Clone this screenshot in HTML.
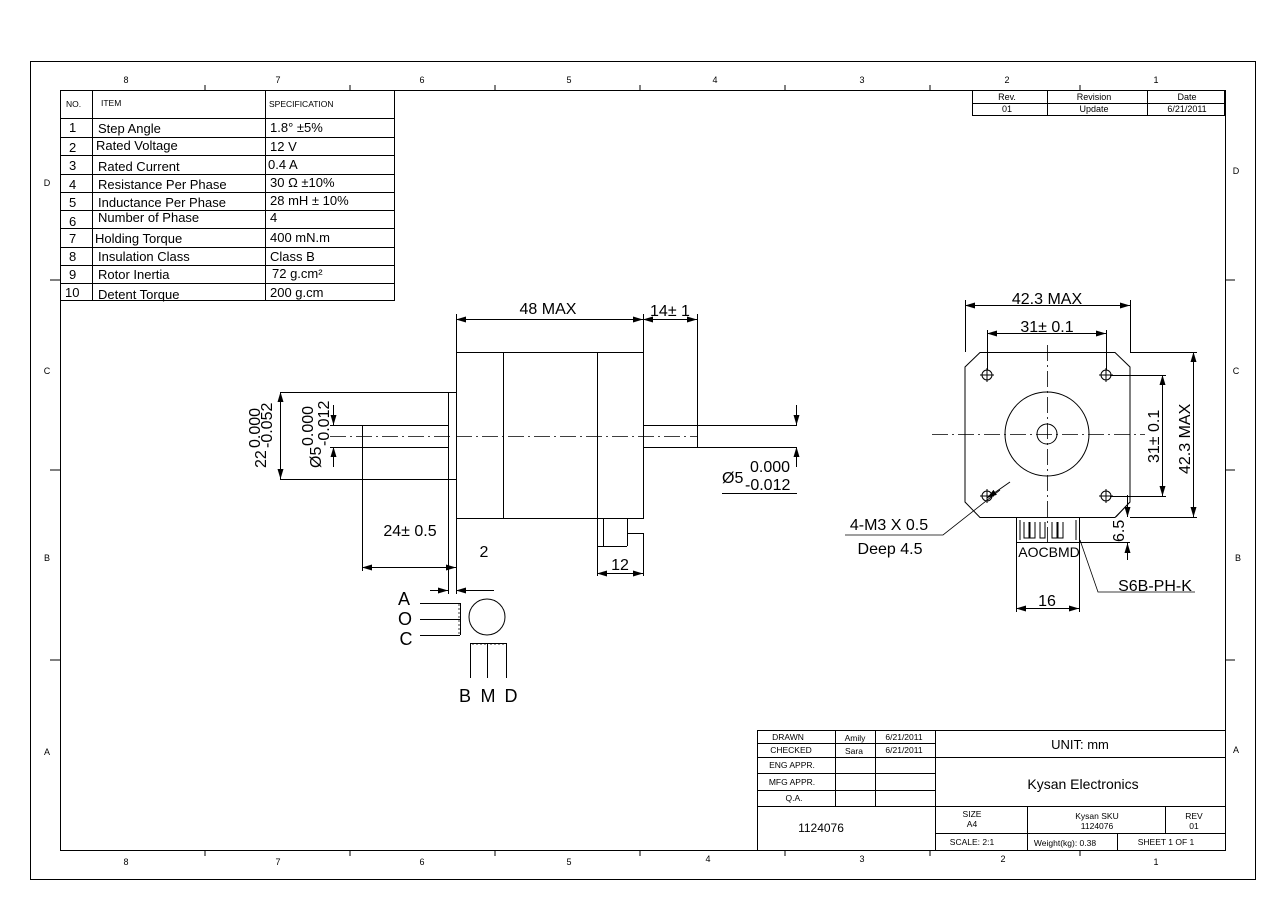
<!DOCTYPE html>
<html><head><meta charset="utf-8"><style>
body{margin:0;background:#fff}
svg{display:block;font-family:"Liberation Sans",Arial,sans-serif}
</style></head><body>
<svg width="1286" height="909" viewBox="0 0 1286 909" xmlns="http://www.w3.org/2000/svg">
<defs>
<marker id="a" viewBox="0 0 10 6" refX="10" refY="3" markerWidth="10" markerHeight="6" orient="auto-start-reverse" markerUnits="userSpaceOnUse"><path d="M0,0 L10,3 L0,6 z" fill="#000"/></marker>
</defs>
<g fill="none" stroke="#000" stroke-width="1">
<rect x="30.5" y="61.5" width="1225" height="818"/>
<rect x="60.5" y="90.5" width="1165" height="760"/>
<path d="M205,85V90M350,85V90M495,85V90M640,85V90M785,85V90M930,85V90M1080,85V90
M205,850V856M350,850V856M495,850V856M640,850V856M785,850V856M930,850V856M1080,850V856
M50,280H60M50,470H60M50,660H60M1225,280H1235M1225,470H1235M1225,660H1235"/>
</g>
<g font-size="9" text-anchor="middle" fill="#000">
<text x="126" y="83">8</text><text x="278" y="83">7</text><text x="422" y="83">6</text><text x="569" y="83">5</text><text x="715" y="83">4</text><text x="862" y="83">3</text><text x="1007" y="83">2</text><text x="1156" y="83">1</text>
<text x="126" y="865">8</text><text x="278" y="865">7</text><text x="422" y="865">6</text><text x="569" y="865">5</text><text x="708" y="862">4</text><text x="862" y="862">3</text><text x="1003" y="862">2</text><text x="1156" y="865">1</text>
<text x="47" y="186">D</text><text x="47" y="374">C</text><text x="47" y="561">B</text><text x="47" y="755">A</text>
<text x="1236" y="174">D</text><text x="1236" y="374">C</text><text x="1238" y="561">B</text><text x="1236" y="753">A</text>
</g>
<!-- spec table -->
<g fill="none" stroke="#000">
<rect x="60.5" y="90.5" width="334" height="210"/>
<path d="M92.5,90V301M265.5,90V301M60,118.5H395M60,137.5H395M60,155.5H395M60,174.5H395M60,192.5H395M60,210.5H395M60,228.5H395M60,247.5H395M60,265.5H395M60,283.5H395"/>
</g>
<g font-size="13" fill="#000">
<text x="66" y="107" font-size="8.5">NO.</text><text x="101" y="106" font-size="8.5">ITEM</text><text x="269" y="107" font-size="8.5">SPECIFICATION</text>
<text x="69" y="132">1</text><text x="98" y="133">Step Angle</text><text x="270" y="132">1.8° ±5%</text>
<text x="69" y="152">2</text><text x="96" y="150">Rated Voltage</text><text x="270" y="151">12 V</text>
<text x="69" y="170">3</text><text x="98" y="171">Rated Current</text><text x="268" y="169">0.4 A</text>
<text x="69" y="189">4</text><text x="98" y="189">Resistance Per Phase</text><text x="270" y="187">30 Ω ±10%</text>
<text x="69" y="207">5</text><text x="98" y="207">Inductance Per Phase</text><text x="270" y="205">28 mH ± 10%</text>
<text x="69" y="226">6</text><text x="98" y="222">Number of Phase</text><text x="270" y="222">4</text>
<text x="69" y="243">7</text><text x="95" y="243">Holding Torque</text><text x="270" y="242">400 mN.m</text>
<text x="69" y="261">8</text><text x="98" y="261">Insulation Class</text><text x="270" y="261">Class B</text>
<text x="69" y="279">9</text><text x="98" y="279">Rotor Inertia</text><text x="272" y="278">72 g.cm²</text>
<text x="65" y="297">10</text><text x="98" y="299">Detent Torque</text><text x="270" y="297">200 g.cm</text>
</g>
<!-- revision table -->
<g fill="none" stroke="#000"><rect x="972.5" y="90.5" width="252" height="25"/><path d="M972,103.5H1225M1047.5,90V116M1147.5,90V116"/></g>
<g font-size="9" text-anchor="middle"><text x="1007" y="100">Rev.</text><text x="1094" y="100">Revision</text><text x="1187" y="100">Date</text><text x="1007" y="112">01</text><text x="1094" y="112">Update</text><text x="1187" y="112">6/21/2011</text></g>
<!-- side view -->
<g fill="none" stroke="#000">
<rect x="456.5" y="352.5" width="187" height="166"/>
<path d="M503.5,352V518M597.5,352V518"/>
<path d="M448.5,392V479M280,392.5H456M280,479.5H456"/>
<path d="M362,425.5H448M362,447.5H448M362.5,425V447M643,425.5H797M643,447.5H797M697.5,425V447"/>
<path d="M597.5,518V546M603.5,518V546M597,546.5H627M627.5,518V546M627,533.5H643"/>
<path d="M330,436.5H450M456,436.5H697" stroke-dasharray="16,4,2,4" stroke-width="0.8"/>
<!-- dims -->
<path d="M456.5,352V314M643.5,352V314M697.5,425V314"/>
<path d="M456,319.5H643" marker-start="url(#a)" marker-end="url(#a)"/>
<path d="M643,319.5H697" marker-start="url(#a)" marker-end="url(#a)"/>
<path d="M280.5,392V479" marker-start="url(#a)" marker-end="url(#a)"/>
<path d="M333.5,405V425" marker-end="url(#a)"/><path d="M333.5,467V447" marker-end="url(#a)"/><path d="M330,425.5H362M330,447.5H362"/>
<path d="M362.5,447V571M456.5,518V571"/>
<path d="M362,567.5H456" marker-start="url(#a)" marker-end="url(#a)"/>
<path d="M448.5,480V594M456.5,571V594"/>
<path d="M430,590.5H448" marker-end="url(#a)"/><path d="M494,590.5H456" marker-end="url(#a)"/>
<path d="M597.5,546V576M643.5,533V576"/>
<path d="M597,573.5H643" marker-start="url(#a)" marker-end="url(#a)"/>
<path d="M796.5,405V425" marker-end="url(#a)"/><path d="M796.5,467V447" marker-end="url(#a)"/>
<path d="M722,493.5H797"/>
</g>
<g font-size="16" fill="#000">
<text x="548" y="314" text-anchor="middle">48 MAX</text>
<text x="670" y="316" text-anchor="middle">14± 1</text>
<text x="410" y="536" text-anchor="middle">24± 0.5</text>
<text x="484" y="557" text-anchor="middle">2</text>
<text x="620" y="570" text-anchor="middle">12</text>
<text x="722" y="483">Ø5</text><text x="750" y="472">0.000</text><text x="745" y="490">-0.012</text>
<text transform="translate(266,468) rotate(-90)">22</text>
<text transform="translate(260,448) rotate(-90)">0.000</text>
<text transform="translate(272,448) rotate(-90)">-0.052</text>
<text transform="translate(321,468) rotate(-90)">Ø5</text>
<text transform="translate(313,446) rotate(-90)">0.000</text>
<text transform="translate(329,446) rotate(-90)">-0.012</text>
</g>
<!-- front view -->
<g fill="none" stroke="#000">
<path d="M980,352.5H1115L1130,367V502L1115,517.5H980L965,502V367Z"/>
<circle cx="1047" cy="434" r="42"/><circle cx="1047" cy="434" r="10"/>
<circle cx="987" cy="375" r="5"/><circle cx="1106" cy="375" r="5"/><circle cx="987" cy="496" r="5"/><circle cx="1106" cy="496" r="5"/>
<path d="M980,375H994M987,368V382M1099,375H1113M1106,368V382M980,496H994M987,489V503M1099,496H1113M1106,489V503"/>
<path d="M932,434.5H1145M1047.5,345V545" stroke-dasharray="16,4,2,4" stroke-width="0.8"/>
<path d="M965.5,352V300M1130.5,352V300M987.5,370V330M1106.5,370V330"/>
<path d="M965,305.5H1130" marker-start="url(#a)" marker-end="url(#a)"/>
<path d="M987,333.5H1106" marker-start="url(#a)" marker-end="url(#a)"/>
<path d="M1110,375.5H1166M1110,496.5H1166M1130,352.5H1197M1130,517.5H1197"/>
<path d="M1162.5,375V496" marker-start="url(#a)" marker-end="url(#a)"/>
<path d="M1193.5,352V517" marker-start="url(#a)" marker-end="url(#a)"/>
<rect x="1016.5" y="517.5" width="63" height="25"/>
<path d="M1020,520V540M1076,520V540M1024,522V538H1029V522M1030,522V538H1035V522M1040,522V538H1045V522M1052,522V538H1057V522M1058,522V538H1063V522"/>
<path d="M1016.5,542V612M1079.5,542V612"/>
<path d="M1016,608.5H1079" marker-start="url(#a)" marker-end="url(#a)"/>
<path d="M1080,542.5H1130M1127.5,495V517" /><path d="M1127.5,500V517" marker-end="url(#a)"/><path d="M1127.5,560V543" marker-end="url(#a)"/>
<path d="M1010,482L987,498" marker-end="url(#a)"/>
<path d="M1000,490L943,535H845" stroke-width="0.8"/>
<path d="M1080,540L1098,592H1195" stroke-width="0.8"/>
<path d="M1130,502L1116,517" stroke-width="0.8"/>
</g>
<g font-size="16" fill="#000">
<text x="1047" y="304" text-anchor="middle">42.3 MAX</text>
<text x="1047" y="332" text-anchor="middle">31± 0.1</text>
<text transform="translate(1159,463) rotate(-90)">31± 0.1</text>
<text transform="translate(1190,474) rotate(-90)">42.3 MAX</text>
<text transform="translate(1124,542) rotate(-90)">6.5</text>
<text x="889" y="530" text-anchor="middle">4-M3 X 0.5</text>
<text x="890" y="554" text-anchor="middle">Deep 4.5</text>
<text x="1049" y="557" text-anchor="middle" font-size="14">AOCBMD</text>
<text x="1047" y="606" text-anchor="middle">16</text>
<text x="1155" y="591" text-anchor="middle">S6B-PH-K</text>
</g>
<!-- wiring -->
<g fill="none" stroke="#000">
<path d="M420,603.5H460M420,619.5H460M420,635.5H460M460.5,603V635"/>
<circle cx="487" cy="617" r="18"/>
<path d="M470,643.5H507M470.5,643V678M487.5,643V678M506.5,643V678"/>
<path d="M460,605h-2M460,609h-2M460,613h-2M460,617h-2M460,621h-2M460,625h-2M460,629h-2M460,633h-2M473,643v2M477,643v2M481,643v2M485,643v2M491,643v2M495,643v2M499,643v2M503,643v2" stroke-width="0.8"/>
</g>
<g font-size="18" fill="#000" text-anchor="middle">
<text x="404" y="605">A</text><text x="405" y="625">O</text><text x="406" y="645">C</text>
<text x="465" y="702">B</text><text x="488" y="702">M</text><text x="511" y="702">D</text>
</g>
<!-- title block -->
<g fill="none" stroke="#000">
<path d="M757.5,730V850M757,730.5H1225M757,743.5H935M757,757.5H1225M757,773.5H935M757,790.5H935M757,806.5H1225M835.5,730V806M875.5,730V806M935.5,730V850M935,833.5H1225M1027.5,806V850M1165.5,806V833M1117.5,833V850"/>
</g>
<g font-size="8.5" fill="#000" text-anchor="middle">
<text x="788" y="740">DRAWN</text><text x="855" y="741">Amily</text><text x="904" y="740">6/21/2011</text>
<text x="791" y="753">CHECKED</text><text x="854" y="754">Sara</text><text x="904" y="753">6/21/2011</text>
<text x="792" y="768">ENG APPR.</text><text x="792" y="785">MFG APPR.</text><text x="794" y="801">Q.A.</text>
<text x="821" y="832" font-size="12">1124076</text>
<text x="1080" y="749" font-size="13">UNIT: mm</text>
<text x="1083" y="789" font-size="14">Kysan Electronics</text>
<text x="972" y="817">SIZE</text><text x="972" y="827">A4</text>
<text x="1097" y="819">Kysan SKU</text><text x="1097" y="829">1124076</text>
<text x="1194" y="819">REV</text><text x="1194" y="829">01</text>
<text x="972" y="845">SCALE: 2:1</text><text x="1065" y="846">Weight(kg): 0.38</text><text x="1166" y="845">SHEET 1 OF 1</text>
</g>
</svg>
</body></html>
